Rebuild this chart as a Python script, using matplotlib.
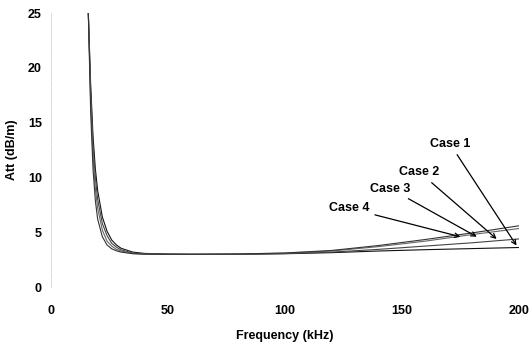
import numpy as np
import matplotlib.pyplot as plt

plt.rcParams['font.family'] = ['Liberation Sans', 'DejaVu Sans']
plt.rcParams['font.weight'] = 'bold'

freq = [16, 17, 18, 19, 20, 22, 24, 26, 28, 30, 35, 40, 50, 60, 80, 100, 120, 140, 160, 180, 200]
case1 = [25, 18.5, 13.8, 10.8, 8.8, 6.4, 5.1, 4.3, 3.85, 3.55, 3.2, 3.08, 3.02, 3.0, 3.0, 3.05, 3.15, 3.3, 3.42, 3.52, 3.62]
case2 = [25, 17.8, 13.0, 10.0, 8.0, 5.8, 4.7, 4.0, 3.65, 3.4, 3.12, 3.04, 3.01, 3.0, 3.0, 3.07, 3.2, 3.45, 3.75, 4.05, 4.4]
case3 = [25, 17.0, 12.0, 9.0, 7.2, 5.2, 4.2, 3.75, 3.45, 3.3, 3.08, 3.02, 3.0, 2.99, 3.02, 3.1, 3.3, 3.7, 4.2, 4.8, 5.35]
case4 = [25, 16.0, 10.8, 7.9, 6.2, 4.6, 3.85, 3.5, 3.32, 3.2, 3.05, 3.01, 3.0, 3.0, 3.03, 3.12, 3.35, 3.8, 4.35, 4.95, 5.6]
series = {'Case 1': case1, 'Case 2': case2, 'Case 3': case3, 'Case 4': case4}
shades = ['#111111', '#444444', '#666666', '#333333']

# annotation text position, arrow tip (data coords)
label_pos = {'Case 1': (170.5, 13.1), 'Case 2': (157.5, 10.5),
             'Case 3': (145.0, 9.0), 'Case 4': (127.5, 7.2)}
arrow_tip = {'Case 1': (199, 3.8), 'Case 2': (190.5, 4.4),
             'Case 3': (182, 4.6), 'Case 4': (175, 4.6)}

fig = plt.figure(figsize=(5.3, 3.46), dpi=100)
ax = fig.add_axes([0.096, 0.17, 0.883, 0.792])

for (name, vals), c in zip(series.items(), shades):
    ax.plot(freq, vals, color=c, lw=0.8)

for name in series:
    ax.annotate(name, xy=arrow_tip[name], xytext=label_pos[name],
                ha='center', va='center', fontsize=9, fontweight='bold',
                arrowprops=dict(arrowstyle='->', color='black', lw=0.9,
                                shrinkA=2, shrinkB=0, mutation_scale=8))

ax.set_xlim(0, 200)
ax.set_ylim(0, 25)
ax.set_xticks([0, 50, 100, 150, 200])
ax.set_yticks([0, 5, 10, 15, 20, 25])
ax.tick_params(axis='x', length=0, labelsize=9, pad=13)
ax.tick_params(axis='y', length=0, labelsize=9, pad=6.5)
for lab in ax.get_xticklabels() + ax.get_yticklabels():
    lab.set_fontweight('bold')
for s in ['top', 'right', 'bottom']:
    ax.spines[s].set_visible(False)
ax.spines['left'].set_color('#cccccc')
ax.spines['left'].set_linestyle(':')
ax.spines['left'].set_linewidth(0.6)

ax.set_xlabel('Frequency (kHz)', fontsize=9, fontweight='bold', labelpad=9)
ax.set_ylabel('Att (dB/m)', fontsize=9, fontweight='bold', labelpad=7)

fig.savefig('out.png', dpi=100)
